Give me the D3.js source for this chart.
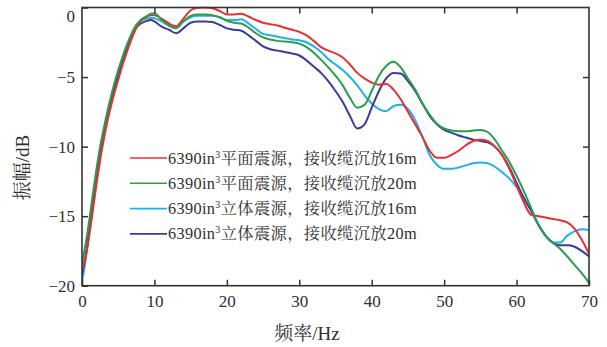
<!DOCTYPE html>
<html><head><meta charset="utf-8">
<script src="https://cdn.jsdelivr.net/npm/d3@7/dist/d3.min.js"></script>
<style>
html,body{margin:0;padding:0;background:#fff;}
svg{display:block;}
text{font-family:"Liberation Serif","Noto Serif CJK SC","Noto Sans CJK SC",serif;fill:#2f2f2f;}
</style></head>
<body><svg id="chart" width="607" height="347"></svg>
<script>
const freq = [0,0.5,1,1.5,2,2.5,3,3.5,4,4.5,5,5.5,6,6.5,7,7.5,8,8.5,9,9.5,10,
  11,12,13,14,15,16,17,18,19,20,21,22,23,24,25,26,27,28,29,30,31,32,33,34,35,36,37,38,39,40,
  41,42,43,44,45,46,47,48,49,50,51,52,53,54,55,56,57,58,59,60,61,62,63,64,65,66,67,68,69,70];

const planar16 = [-18.9,-17.9,-16.4,-14.6,-12.7,-11.0,-9.5,-8.2,-7.1,-6.1,-5.2,-4.3,-3.5,-2.75,-2.05,-1.45,-1.05,-0.8,-0.65,-0.55,-0.55,
  -0.8,-1.15,-1.35,-0.8,-0.2,-0.02,0,-0.05,-0.25,-0.5,-0.5,-0.45,-0.65,-0.9,-1.1,-1.2,-1.3,-1.45,-1.6,-1.75,-2.0,-2.4,-2.85,-3.1,-3.3,-3.6,-4.1,-4.7,-5.1,-5.4,
  -5.55,-5.5,-5.9,-6.6,-7.5,-8.4,-9.3,-10.3,-10.8,-10.8,-10.6,-10.3,-9.9,-9.6,-9.5,-9.6,-10.0,-10.6,-11.6,-12.8,-14.0,-14.9,-15.0,-15.1,-15.2,-15.3,-15.45,-15.9,-16.7,-17.7];

const planar20 = [-18.4,-17.0,-15.3,-13.4,-11.6,-10.0,-8.7,-7.5,-6.4,-5.4,-4.5,-3.7,-2.95,-2.3,-1.7,-1.25,-0.95,-0.75,-0.6,-0.45,-0.42,
  -0.9,-1.3,-1.5,-1.0,-0.6,-0.5,-0.5,-0.55,-0.7,-0.95,-1.1,-1.15,-1.45,-1.85,-2.15,-2.3,-2.4,-2.45,-2.5,-2.6,-2.85,-3.25,-3.75,-4.3,-4.9,-5.6,-6.5,-7.2,-7.0,-6.0,
  -4.9,-4.2,-3.9,-4.3,-5.1,-5.9,-6.9,-7.7,-8.35,-8.7,-8.85,-8.9,-8.9,-8.85,-8.8,-8.95,-9.5,-10.3,-11.1,-12.1,-13.2,-14.4,-15.6,-16.4,-16.9,-17.35,-17.9,-18.5,-19.1,-19.8];

const solid16 = [-19.7,-18.2,-16.2,-14.0,-12.0,-10.3,-8.9,-7.7,-6.6,-5.6,-4.7,-3.9,-3.1,-2.4,-1.8,-1.3,-1.0,-0.85,-0.8,-0.75,-0.78,
  -1.0,-1.3,-1.4,-1.0,-0.7,-0.6,-0.6,-0.6,-0.7,-0.9,-0.9,-0.85,-1.15,-1.55,-1.9,-2.0,-2.1,-2.2,-2.3,-2.35,-2.5,-2.8,-3.2,-3.7,-4.1,-4.5,-5.0,-5.6,-6.3,-6.9,
  -7.3,-7.45,-7.1,-7.0,-7.3,-8.1,-9.3,-10.6,-11.3,-11.6,-11.6,-11.5,-11.35,-11.2,-11.15,-11.2,-11.45,-11.85,-12.3,-12.9,-13.7,-14.6,-15.6,-16.4,-16.9,-16.9,-16.4,-16.1,-15.95,-16.0];

const solid20 = [-19.2,-17.8,-15.9,-13.8,-11.9,-10.3,-8.9,-7.8,-6.7,-5.8,-4.9,-4.1,-3.3,-2.6,-1.95,-1.45,-1.2,-1.05,-0.95,-0.9,-1.0,
  -1.38,-1.6,-1.85,-1.5,-1.1,-1.0,-1.0,-1.05,-1.25,-1.5,-1.6,-1.67,-2.0,-2.4,-2.8,-3.0,-3.1,-3.2,-3.3,-3.45,-3.8,-4.25,-4.7,-5.3,-6.0,-6.8,-7.8,-8.7,-8.4,-7.2,
  -6.0,-5.1,-4.7,-4.75,-5.3,-6.0,-6.9,-7.8,-8.4,-8.8,-9.0,-9.2,-9.35,-9.5,-9.6,-9.7,-10.0,-10.6,-11.5,-12.6,-13.7,-14.6,-15.6,-16.4,-16.9,-17.1,-17.1,-17.2,-17.5,-17.9];

const seriesNames = ["平面震源，接收缆沉放16m","平面震源，接收缆沉放20m","立体震源，接收缆沉放16m","立体震源，接收缆沉放20m"];
const seriesValues = [planar16, planar20, solid16, solid20];
const seriesColors = ["#e8302f","#2a9e4b","#1eb2ea","#3a3c97"];

const xTicks = [0,10,20,30,40,50,60,70];
const yTicks = [0,-5,-10,-15,-20];
const xLabel = "频率/Hz";
const yLabel = "振幅/dB";

const svg = d3.select("#chart");
const L = 82, R = 589, T = 7.5, B = 285.7;
const x = d3.scaleLinear().domain([0,70]).range([L,R]);
const y = d3.scaleLinear().domain([-20,0]).range([B,T]);
const axisColor = "#333";

const line = d3.line().x(d=>x(d[0])).y(d=>y(d[1])).curve(d3.curveMonotoneX);
svg.append("defs").append("clipPath").attr("id","clip")
  .append("rect").attr("x",L).attr("y",T-1).attr("width",R-L).attr("height",B-T+2);
const lg = svg.append("g").attr("clip-path","url(#clip)");
const order = [2,3,0,1];
order.forEach(i=>{
  lg.append("path").datum(freq.map((f,k)=>[f,seriesValues[i][k]]))
    .attr("d",line).attr("fill","none").attr("stroke",seriesColors[i])
    .attr("stroke-width",2).attr("stroke-linejoin","round");
});

function styleAxis(g){
  g.selectAll("path.domain").remove();
  g.selectAll(".tick line").attr("stroke",axisColor).attr("stroke-width",1.5);
  g.selectAll(".tick text").attr("font-size",17).attr("fill","#2f2f2f")
    .attr("font-family","Liberation Serif, serif");
}
const fmt = d => d < 0 ? "\u2212" + Math.abs(d) : String(d);
svg.append("g").attr("transform",`translate(0,${B})`)
  .call(d3.axisBottom(x).tickValues(xTicks).tickSize(-6).tickPadding(9).tickFormat(fmt)).call(styleAxis);
svg.append("g").attr("transform",`translate(0,${T})`)
  .call(d3.axisTop(x).tickValues(xTicks.slice(1,-1)).tickSize(-6).tickFormat("")).call(styleAxis);
const ly = svg.append("g").attr("transform",`translate(${L},0)`)
  .call(d3.axisLeft(y).tickValues(yTicks).tickSize(-6).tickPadding(7).tickFormat(fmt)).call(styleAxis);
ly.selectAll(".tick").filter(d=>d===0).select("text").attr("dy","0.85em");
svg.append("g").attr("transform",`translate(${R},0)`)
  .call(d3.axisRight(y).tickValues(yTicks.slice(1,-1)).tickSize(-6).tickFormat("")).call(styleAxis);

svg.append("rect").attr("x",L).attr("y",T).attr("width",R-L).attr("height",B-T)
  .attr("fill","none").attr("stroke",axisColor).attr("stroke-width",1.6);

svg.append("text").attr("x",307).attr("y",340).attr("text-anchor","middle")
  .attr("font-size",19).text(xLabel);
svg.append("text").attr("transform","translate(29,167.5) rotate(-90)").attr("text-anchor","middle")
  .attr("font-size",19).text(yLabel);

const leg = svg.append("g");
seriesNames.forEach((name,i)=>{
  const yy = 158 + i*25.3;
  leg.append("line").attr("x1",130).attr("x2",167).attr("y1",yy).attr("y2",yy)
    .attr("stroke",seriesColors[i]).attr("stroke-width",1.6);
  const t = leg.append("text").attr("x",168).attr("y",yy+5.5).attr("font-size",16.3)
    .attr("letter-spacing",0.35);
  t.append("tspan").text("6390in");
  t.append("tspan").attr("font-size",10).attr("dy",-6).text("3");
  t.append("tspan").attr("dy",6).text(name);
});
</script></body></html>
